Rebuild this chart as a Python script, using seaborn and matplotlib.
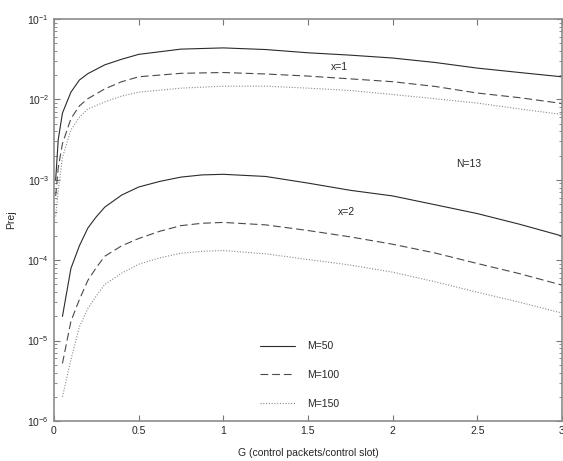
import numpy as np
import pandas as pd
import matplotlib
matplotlib.use("Agg")
import matplotlib.pyplot as plt
import seaborn as sns

# ────────── data ──────────────────────────────────────────────────────────────
G_X1 = [0.01, 0.025, 0.05, 0.1, 0.15, 0.2, 0.3, 0.4, 0.5, 0.75,
        1.0, 1.25, 1.5, 1.75, 2.0, 2.25, 2.5, 2.75, 3.0]
G_X2 = [0.05, 0.1, 0.15, 0.2, 0.25, 0.3, 0.4, 0.5, 0.625, 0.75, 0.875,
        1.0, 1.25, 1.5, 1.75, 2.0, 2.25, 2.5, 2.75, 3.0]

# x = 1
M50_X1 = [1.0e-3, 3.16e-3, 6.76e-3, 1.23e-2, 1.74e-2, 2.09e-2, 2.69e-2, 3.16e-2, 3.63e-2, 4.22e-2,
          4.37e-2, 4.17e-2, 3.80e-2, 3.55e-2, 3.27e-2, 2.88e-2, 2.45e-2, 2.16e-2, 1.91e-2]
M100_X1 = [6.3e-4, 1.41e-3, 2.82e-3, 5.75e-3, 8.3e-3, 1.02e-2, 1.35e-2, 1.66e-2, 1.91e-2, 2.11e-2,
           2.16e-2, 2.07e-2, 1.95e-2, 1.80e-2, 1.66e-2, 1.45e-2, 1.20e-2, 1.05e-2, 8.9e-3]
M150_X1 = [3.5e-4, 7.4e-4, 1.9e-3, 4.17e-3, 6.0e-3, 7.6e-3, 9.3e-3, 1.10e-2, 1.23e-2, 1.38e-2,
           1.46e-2, 1.46e-2, 1.38e-2, 1.29e-2, 1.15e-2, 1.02e-2, 9.0e-3, 7.6e-3, 6.5e-3]

# x = 2
M50_X2 = [2.0e-5, 7.9e-5, 1.51e-4, 2.51e-4, 3.47e-4, 4.57e-4, 6.46e-4, 8.13e-4, 9.55e-4, 1.08e-3, 1.15e-3,
          1.17e-3, 1.10e-3, 9.1e-4, 7.4e-4, 6.3e-4, 4.9e-4, 3.8e-4, 2.8e-4, 2.0e-4]
M100_X2 = [5.2e-6, 1.74e-5, 3.24e-5, 5.6e-5, 8.1e-5, 1.12e-4, 1.51e-4, 1.86e-4, 2.29e-4, 2.69e-4, 2.88e-4,
           2.95e-4, 2.75e-4, 2.34e-4, 1.95e-4, 1.58e-4, 1.23e-4, 9.1e-5, 6.8e-5, 4.9e-5]
M150_X2 = [2.0e-6, 5.8e-6, 1.48e-5, 2.51e-5, 3.6e-5, 5.0e-5, 6.9e-5, 8.9e-5, 1.07e-4, 1.22e-4, 1.29e-4,
           1.32e-4, 1.20e-4, 1.02e-4, 8.7e-5, 7.1e-5, 5.4e-5, 4.0e-5, 3.0e-5, 2.2e-5]

M_LABELS = ["M=50", "M=100", "M=150"]
X_TICKS = [0, 0.5, 1, 1.5, 2, 2.5, 3]


def tidy() -> pd.DataFrame:
    rows = []
    for x, g, series in (
        (1, G_X1, (M50_X1, M100_X1, M150_X1)),
        (2, G_X2, (M50_X2, M100_X2, M150_X2)),
    ):
        for label, vals in zip(M_LABELS, series):
            rows += [{"x": x, "M": label, "G": gi, "Prej": v} for gi, v in zip(g, vals)]
    return pd.DataFrame.from_records(rows)


def main() -> None:
    df = tidy()
    sns.set_style("ticks")
    plt.rcParams["font.family"] = ["Liberation Sans", "DejaVu Sans"]

    fig = plt.figure(figsize=(5.63, 4.61), dpi=100)
    ax = fig.add_axes([0.0959, 0.0868, 0.9021, 0.872])

    palette = {"M=50": "#2b2b2b", "M=100": "#4a4a4a", "M=150": "#8a8a8a"}
    dashes = {"M=50": "", "M=100": (7, 3.5), "M=150": (1, 1.5)}

    for x, grp in df.groupby("x"):
        sns.lineplot(
            data=grp, x="G", y="Prej", hue="M", style="M",
            palette=palette, dashes=dashes, hue_order=M_LABELS, style_order=M_LABELS,
            linewidth=0.8, estimator=None, legend=(x == 1), ax=ax,
        )

    ax.set_yscale("log")
    ax.set_xlim(0, 3)
    ax.set_ylim(1e-6, 1e-1)
    ax.set_xticks(X_TICKS)
    ax.set_xticklabels(["0", "0.5", "1", "1.5", "2", "2.5", "3"])
    ax.set_xlabel("G (control packets/control slot)", fontsize=7.5, labelpad=9)
    ax.set_ylabel("Prej", fontsize=7.5, labelpad=8)

    ax.tick_params(which="both", direction="in", top=True, right=True,
                   labelsize=7.5, color="#777777")
    ax.tick_params(which="major", length=4)
    ax.tick_params(which="minor", length=2)
    for sp in ax.spines.values():
        sp.set_color("#8c8c8c")
        sp.set_linewidth(1.2)
        sp.set_visible(True)

    ax.text(1.685, 2.5e-2, "x=1", fontsize=7.5, ha="center", va="center")
    ax.text(2.45, 1.55e-3, "N=13", fontsize=7.5, ha="center", va="center")
    ax.text(1.73, 4.0e-4, "x=2", fontsize=7.5, ha="center", va="center")

    ax.legend(
        loc="upper left", bbox_to_anchor=(0.405, 0.198), frameon=False,
        fontsize=7.5, handlelength=3.4, handletextpad=1.2, labelspacing=1.8,
        borderpad=0, borderaxespad=0, title=None,
    )

    fig.savefig("out.png", dpi=100)


if __name__ == "__main__":
    main()
